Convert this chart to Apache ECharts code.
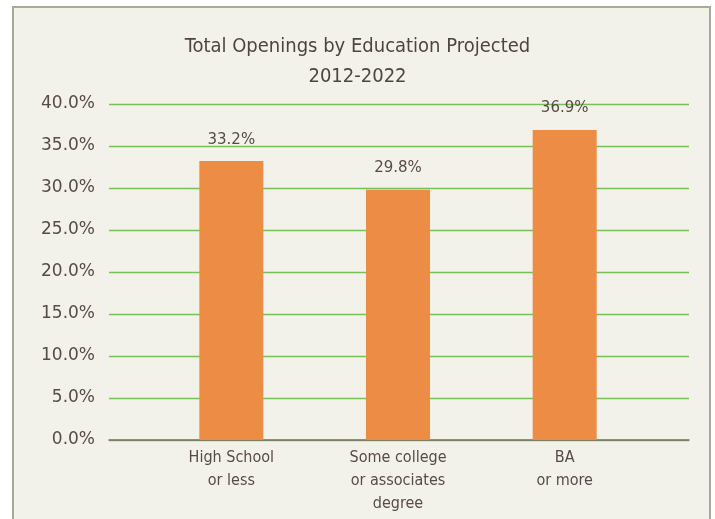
<!DOCTYPE html>
<html>
<head>
<meta charset="utf-8">
<script src="https://cdn.jsdelivr.net/npm/echarts@6/dist/echarts.min.js"></script>
<style>
html,body{margin:0;padding:0;background:#ffffff;}
#chart{width:715px;height:519px;}
</style>
</head>
<body>
<div id="chart"></div>
<script>
const titleText = 'Total Openings by Education Projected\n2012-2022';
const categories = ['High School\nor less', 'Some college\nor associates\ndegree', 'BA\nor more'];
const openingsShare = [33.2, 29.8, 36.9];
const yTicks = { min: 0, max: 40, interval: 5 };

const narrow = "'Liberation Sans Narrow', 'DejaVu Sans Condensed', 'Roboto Condensed', Roboto, sans-serif";
const textColor = '#574b45';
const chart = echarts.init(document.getElementById('chart'));
chart.setOption({
  backgroundColor: '#ffffff',
  animation: false,
  graphic: [{
    type: 'rect', z: -10, silent: true,
    shape: { x: 13, y: 7, width: 697, height: 620 },
    style: { fill: '#f3f2ea', stroke: '#a8a997', lineWidth: 2 }
  }],
  title: {
    text: titleText,
    left: 'center',
    top: 27,
    textStyle: { fontFamily: narrow, fontSize: 20, fontWeight: 'normal', color: '#4e4440', lineHeight: 30 }
  },
  grid: [
    { left: 109, right: 26, top: 104, bottom: 79 },
    { left: 148, right: 67, top: 104, bottom: 79 }
  ],
  xAxis: [
    { type: 'category', gridIndex: 0, data: categories,
      axisLine: { lineStyle: { color: '#7d6e64', width: 1.5 } },
      axisTick: { show: false }, axisLabel: { show: false } },
    { type: 'category', gridIndex: 1, data: categories,
      axisLine: { show: false }, axisTick: { show: false },
      axisLabel: { margin: 6, fontFamily: narrow, fontSize: 16, lineHeight: 23, color: textColor } }
  ],
  yAxis: [
    { type: 'value', gridIndex: 0, min: yTicks.min, max: yTicks.max, interval: yTicks.interval,
      axisLine: { show: false }, axisTick: { show: false },
      axisLabel: { margin: 14, fontFamily: 'DejaVu Sans', fontSize: 17, color: textColor,
        formatter: v => v.toFixed(1) + '%' },
      splitLine: { lineStyle: { color: '#79c05a', width: 1.3 } } },
    { type: 'value', gridIndex: 1, min: yTicks.min, max: yTicks.max, interval: yTicks.interval,
      show: false, splitLine: { show: false } }
  ],
  series: [{
    type: 'bar', xAxisIndex: 1, yAxisIndex: 1,
    data: openingsShare,
    barWidth: 64,
    itemStyle: { color: '#ec8c45' },
    label: { show: true, position: 'top', distance: 14, fontFamily: 'DejaVu Sans', fontSize: 15, color: textColor,
      formatter: p => p.value.toFixed(1) + '%' }
  }]
});
</script>
</body>
</html>
